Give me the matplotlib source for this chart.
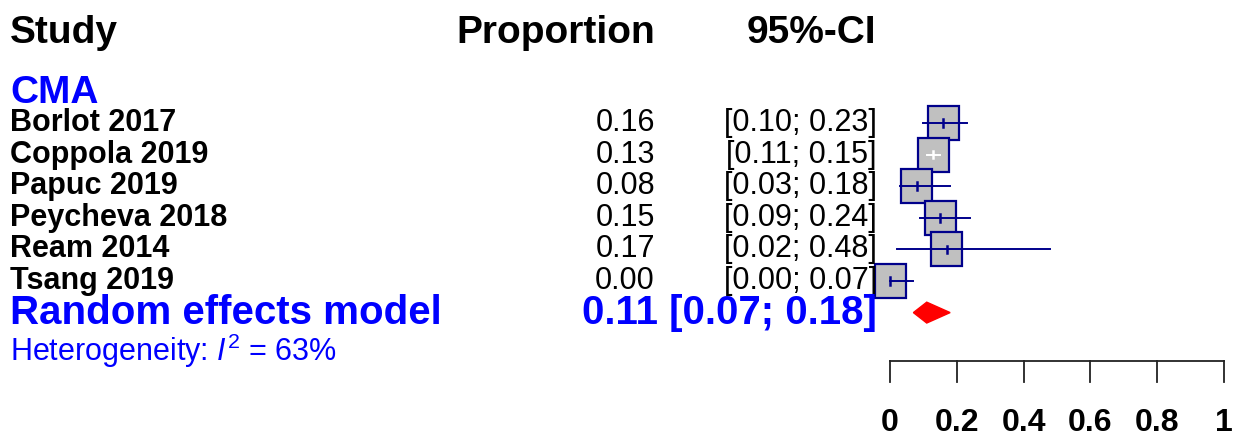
import matplotlib
matplotlib.use("Agg")
import matplotlib.pyplot as plt
from matplotlib.patches import Rectangle, Polygon
import matplotlib.transforms as mtrans

plt.rcParams['font.family'] = ['Liberation Sans', 'DejaVu Sans']
plt.rcParams['mathtext.fontset'] = 'custom'
plt.rcParams['mathtext.rm'] = 'Liberation Sans'
plt.rcParams['mathtext.it'] = 'Liberation Sans:italic'

# data
group = "CMA"
studies = ["Borlot 2017", "Coppola 2019", "Papuc 2019", "Peycheva 2018", "Ream 2014", "Tsang 2019"]
prop = [0.16, 0.13, 0.08, 0.15, 0.17, 0.00]
lower = [0.10, 0.11, 0.03, 0.09, 0.02, 0.00]
upper = [0.23, 0.15, 0.18, 0.24, 0.48, 0.07]
re_est, re_lo, re_hi = 0.11, 0.07, 0.18
i2 = 63
ticks = [0, 0.2, 0.4, 0.6, 0.8, 1]
tick_labels = ["0", "0.2", "0.4", "0.6", "0.8", "1"]

W, H = 1242, 441
fig = plt.figure(figsize=(W / 100, H / 100), dpi=100)
ax = fig.add_axes([0, 0, 1, 1])
# x: proportion scale, 0 -> px 890, 1 -> px 1224 ; y: row index, row spacing 31.6 px
ax.set_xlim(-890 / 334, (W - 890) / 334)
ax.set_ylim((H - 123) / 31.6, -123 / 31.6)
ax.axis('off')

tr = mtrans.blended_transform_factory(fig.transFigure, ax.transData)
def px(x):
    return x / W

navy = '#00008b'
blue = '#0000ff'

# header
ax.text(px(10), -2.85, "Study", transform=tr, ha='left', va='center', fontsize=28, fontweight='bold')
ax.text(px(655), -2.85, "Proportion", transform=tr, ha='right', va='center', fontsize=28, fontweight='bold')
ax.text(px(876), -2.85, "95%-CI", transform=tr, ha='right', va='center', fontsize=28, fontweight='bold')

ax.text(px(10), -0.95, group, transform=tr, ha='left', va='center', fontsize=28, fontweight='bold', color=blue)

bw = 31 / 334
bh = 1.08
for i, s in enumerate(studies):
    ax.text(px(10), i, s, transform=tr, ha='left', va='center', fontsize=22, fontweight='bold')
    ax.text(px(655), i, "%.2f" % prop[i], transform=tr, ha='right', va='center', fontsize=22)
    ax.text(px(877), i, "[%.2f; %.2f]" % (lower[i], upper[i]), transform=tr, ha='right', va='center', fontsize=22)
    ax.add_patch(Rectangle((prop[i] - bw / 2, i - bh / 2), bw, bh, facecolor='#c0c0c0',
                           edgecolor=navy, linewidth=1.6, zorder=2))
    inside = lower[i] > prop[i] - bw / 2 and upper[i] < prop[i] + bw / 2
    c = 'white' if inside else navy
    ax.plot([lower[i], upper[i]], [i, i], color=c, linewidth=1.4, zorder=3)
    ax.plot([prop[i], prop[i]], [i - 0.12, i + 0.12], color=c, linewidth=1.8, zorder=3)

# random effects
r = len(studies)
ax.text(px(10), r, "Random effects model", transform=tr, ha='left', va='center', fontsize=29,
        fontweight='bold', color=blue)
ax.text(px(877), r, "%.2f [%.2f; %.2f]" % (re_est, re_lo, re_hi), transform=tr, ha='right', va='center',
        fontsize=29, fontweight='bold', color=blue)
dh = 0.33
ax.add_patch(Polygon([(re_lo, r), (re_est, r - dh), (re_hi, r), (re_est, r + dh)],
                     closed=True, facecolor='red', edgecolor='red', zorder=3))
ax.text(px(10), r + 1.2, "Heterogeneity: $I^2$ = %d%%" % i2, transform=tr, ha='left', va='center',
        fontsize=22, color=blue)

# axis
ya = 7.52
yt = 8.19
ax.plot([ticks[0], ticks[-1]], [ya, ya], color='#222222', linewidth=1.3)
for t, lab in zip(ticks, tick_labels):
    ax.plot([t, t], [ya, yt], color='#222222', linewidth=1.3)
    ax.text(t, 9.49, lab, ha='center', va='center', fontsize=23, fontweight='bold')

fig.savefig("out.png", dpi=100)
